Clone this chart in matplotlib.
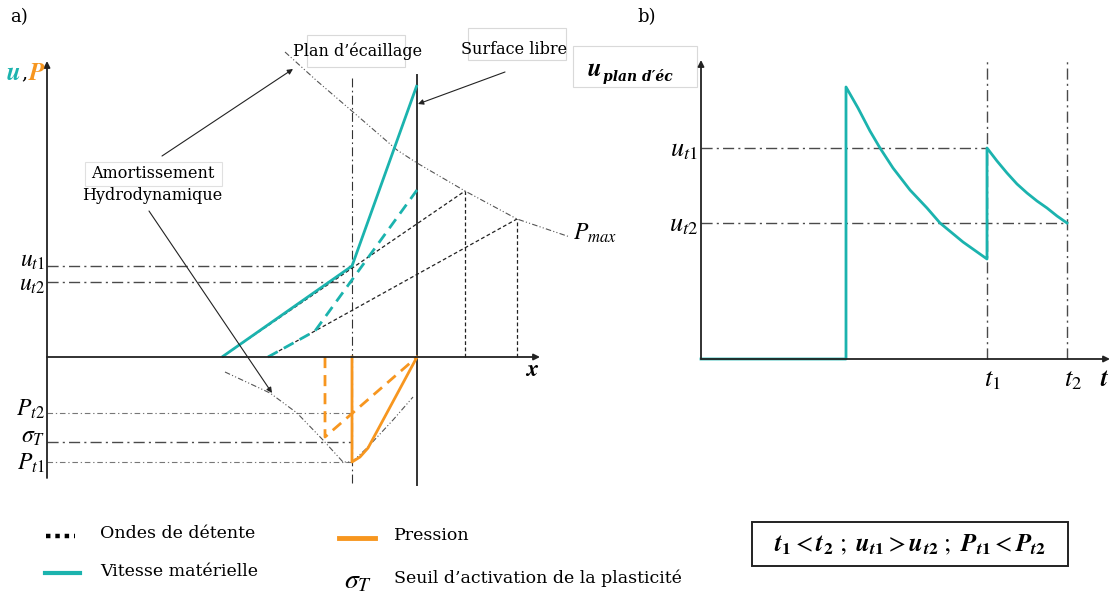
import matplotlib
matplotlib.use("Agg")
import matplotlib.pyplot as plt
from matplotlib.transforms import Affine2D
from matplotlib.patches import Rectangle

plt.rcParams['mathtext.fontset'] = 'stix'
plt.rcParams['font.family'] = ['DejaVu Serif']

TEAL = '#1BB3AE'
ORANGE = '#F7961F'
GREY = '#4a4a4a'

# ---------------- Panel a : schematic profiles (x, u>0 / P<0) ----------------
x_spall = 305          # plan d'écaillage
x_surface = 370        # surface libre
u_t1 = 91
u_t2 = 75
P_t2 = -56
sigma_T = -85
P_t1 = -105

vel_x = [175, 305, 370]
vel_y = [0, 91, 272]
vel2_x = [221, 268, 370]
vel2_y = [0, 26, 167]
wave1_x = [175, 418]
wave1_y = [0, 166]
wave2_x = [221, 470]
wave2_y = [0, 138]
pmax_x = [238, 270, 313, 350, 370, 418, 470, 523]
pmax_y = [305, 276, 239, 207, 194, 166, 138, 120]
damp_x = [178, 223, 250, 276, 296, 305, 320, 346, 366]
damp_y = [-15, -36, -56, -83, -105, -105, -91, -63, -40]
pres_x = [305, 305, 313, 321, 370]
pres_y = [0, -105, -100, -91, 0]
pres2_x = [278, 278, 370]
pres2_y = [0, -80, 0]

# ---------------- Panel b : u at spall plane vs time ----------------
t1 = 286
t2 = 366
ub_t1 = 211
ub_t2 = 136
ub_time = [0, 145, 145, 157, 169, 179, 192, 209, 226, 239, 262, 286,
           286, 296, 306, 316, 326, 336, 346, 356, 366]
ub_vals = [0, 0, 272, 251, 228, 211, 191, 169, 151, 136, 117, 100,
           211, 198, 186, 175, 166, 158, 151, 143, 136]

fig = plt.figure(figsize=(11.11, 5.96), dpi=100)
ax = fig.add_axes([0, 0, 1, 1])
ax.set_xlim(0, 1111)
ax.set_ylim(596, 0)
ax.axis('off')

trA = Affine2D().scale(1, -1).translate(47, 357) + ax.transData
trB = Affine2D().scale(1, -1).translate(701, 359) + ax.transData

ARW = dict(arrowstyle='-|>', lw=1.3, color='#222222', mutation_scale=9, shrinkA=0, shrinkB=0)
THIN_ARW = dict(arrowstyle='-|>', lw=0.8, color='#222222', mutation_scale=8, shrinkA=0, shrinkB=0)

dashdot = (0, (8, 3, 1.5, 3))
dashdot_light = (0, (5, 2.5, 1.2, 2.5))
dashdotdot = (0, (5, 2, 1, 2, 1, 2))

# ---- panel a axes
ax.annotate('', xy=(0, 296), xytext=(0, -121), xycoords=trA, textcoords=trA, arrowprops=ARW)
ax.annotate('', xy=(493, 0), xytext=(0, 0), xycoords=trA, textcoords=trA, arrowprops=ARW)
ax.plot([x_surface, x_surface], [-128, 282], color='#333333', lw=1.4, transform=trA)
ax.plot([x_spall, x_spall], [-126, 282], color='#333333', lw=0.8, ls=dashdot, transform=trA)

# reference levels
for lev, st, c, w in [(u_t1, dashdot, GREY, 1.0), (u_t2, dashdot, GREY, 1.0),
                      (sigma_T, dashdot, GREY, 1.0),
                      (P_t2, dashdot_light, '#777777', 0.8), (P_t1, dashdot_light, '#777777', 0.8)]:
    ax.plot([0, x_spall], [lev, lev], color=c, lw=w, ls=st, transform=trA)

# envelopes
ax.plot(pmax_x, pmax_y, color='#555555', lw=0.8, ls=dashdotdot, transform=trA)
ax.plot(damp_x, damp_y, color='#555555', lw=0.8, ls=dashdotdot, transform=trA)

# release waves
for wx, wy in [(wave1_x, wave1_y), (wave2_x, wave2_y)]:
    ax.plot(wx, wy, color='#222222', lw=0.9, ls=(0, (3, 2)), transform=trA)
    ax.plot([wx[1], wx[1]], [0, wy[1]], color='#222222', lw=0.9, ls=(0, (3, 2)), transform=trA)

# velocity
ax.plot(vel_x, vel_y, color=TEAL, lw=2.0, transform=trA, solid_capstyle='butt')
ax.plot(vel2_x, vel2_y, color=TEAL, lw=2.0, ls=(0, (4, 2.5)), transform=trA)
# pressure
ax.plot(pres_x, pres_y, color=ORANGE, lw=2.0, transform=trA)
ax.plot(pres2_x, pres2_y, color=ORANGE, lw=2.0, ls=(0, (4, 2.5)), transform=trA)

# ---- panel b
ax.annotate('', xy=(0, 299), xytext=(0, 0), xycoords=trB, textcoords=trB, arrowprops=ARW)
ax.annotate('', xy=(409, 0), xytext=(0, 0), xycoords=trB, textcoords=trB, arrowprops=ARW)
ax.plot([t1, t1], [0, 300], color=GREY, lw=1.0, ls=dashdot, transform=trB)
ax.plot([t2, t2], [0, 300], color=GREY, lw=1.0, ls=dashdot, transform=trB)
ax.plot([0, t1], [ub_t1, ub_t1], color=GREY, lw=1.0, ls=dashdot, transform=trB)
ax.plot([0, t2], [ub_t2, ub_t2], color=GREY, lw=1.0, ls=dashdot, transform=trB)
ax.plot(ub_time, ub_vals, color=TEAL, lw=2.0, transform=trB, solid_joinstyle='round')

# ---- texts
ax.text(10, 17, 'a)', fontsize=13, va='center', ha='left')
ax.text(637, 17, 'b)', fontsize=13, va='center', ha='left')

ax.text(6, 73, r'$\boldsymbol{u}$', color=TEAL, fontsize=18, va='center', ha='left')
ax.text(21, 73, ',', color='k', fontsize=14, va='center', ha='left')
ax.text(28, 73, r'$\boldsymbol{P}$', color=ORANGE, fontsize=18, va='center', ha='left')

mfs = 17
ax.text(45, 260, r'$u_{t1}$', fontsize=mfs, ha='right', va='center')
ax.text(45, 284, r'$u_{t2}$', fontsize=mfs, ha='right', va='center')
ax.text(45, 409, r'$P_{t2}$', fontsize=mfs, ha='right', va='center')
ax.text(45, 437, r'$\sigma_T$', fontsize=mfs, ha='right', va='center')
ax.text(45, 463, r'$P_{t1}$', fontsize=mfs, ha='right', va='center')
ax.text(532, 370, r'$\boldsymbol{x}$', fontsize=17, ha='center', va='center')
ax.text(573, 233, r'$P_{max}$', fontsize=17, ha='left', va='center')

ax.text(698, 150, r'$u_{t1}$', fontsize=19, ha='right', va='center')
ax.text(698, 225, r'$u_{t2}$', fontsize=19, ha='right', va='center')
ax.text(992, 380, r'$t_1$', fontsize=19, ha='center', va='center')
ax.text(1073, 380, r'$t_2$', fontsize=19, ha='center', va='center')
ax.text(1100, 380, r'$\boldsymbol{t}$', fontsize=18, ha='left', va='center')

# annotations
ax.add_patch(Rectangle((307, 35), 98, 32, fill=False, ec='#d9d9d9', lw=0.8))
ax.text(358, 51, "Plan d\u2019écaillage", fontsize=11.5, ha='center', va='center')
ax.add_patch(Rectangle((468, 28), 98, 32, fill=False, ec='#d9d9d9', lw=0.8))
ax.text(514, 50, "Surface libre", fontsize=11.5, ha='center', va='center')
ax.annotate('', xy=(418, 104), xytext=(505, 72), arrowprops=THIN_ARW)

ax.add_patch(Rectangle((85, 162), 137, 24, fill=False, ec='#e0e0e0', lw=0.8))
ax.text(153, 173, "Amortissement", fontsize=11.5, ha='center', va='center')
ax.text(152, 195, "Hydrodynamique", fontsize=11.5, ha='center', va='center')
ax.annotate('', xy=(293, 69), xytext=(162, 156), arrowprops=THIN_ARW)
ax.annotate('', xy=(272, 393), xytext=(149, 211), arrowprops=THIN_ARW)

ax.add_patch(Rectangle((573, 46), 124, 41, fill=False, ec='#d9d9d9', lw=0.8))
ax.text(587, 70, r'$\boldsymbol{u}$', fontsize=18, ha='left', va='center')
ax.text(603, 76, "plan d\u2032éc", fontsize=10, fontweight='bold', fontstyle='italic',
        ha='left', va='center')

# legend
ax.plot([46, 75], [536, 536], color='k', lw=3.2, ls=(0, (1, 1.1)))
ax.text(100, 534, "Ondes de détente", fontsize=12.5, ha='left', va='center')
ax.plot([45, 80], [573, 573], color=TEAL, lw=3)
ax.text(100, 572, "Vitesse matérielle", fontsize=12.5, ha='left', va='center')
ax.plot([339, 375], [538, 538], color=ORANGE, lw=3.5)
ax.text(394, 535, "Pression", fontsize=12.5, ha='left', va='center')
ax.text(358, 581, r'$\sigma_T$', fontsize=20, ha='center', va='center')
ax.text(394, 578, "Seuil d\u2019activation de la plasticité", fontsize=12.5, ha='left', va='center')

ax.add_patch(Rectangle((752, 522), 316, 44, fill=False, ec='#222222', lw=1.4))
box_txt = (r'$\boldsymbol{t}_{\boldsymbol{1}} < \boldsymbol{t}_{\boldsymbol{2}}\ ;\ '
           r'\boldsymbol{u}_{\boldsymbol{t1}} > \boldsymbol{u}_{\boldsymbol{t2}}\ ;\ '
           r'\boldsymbol{P}_{\boldsymbol{t1}} < \boldsymbol{P}_{\boldsymbol{t2}}$')
ax.text(910, 545, box_txt, fontsize=18, ha='center', va='center')

fig.savefig('out.png', dpi=100)
